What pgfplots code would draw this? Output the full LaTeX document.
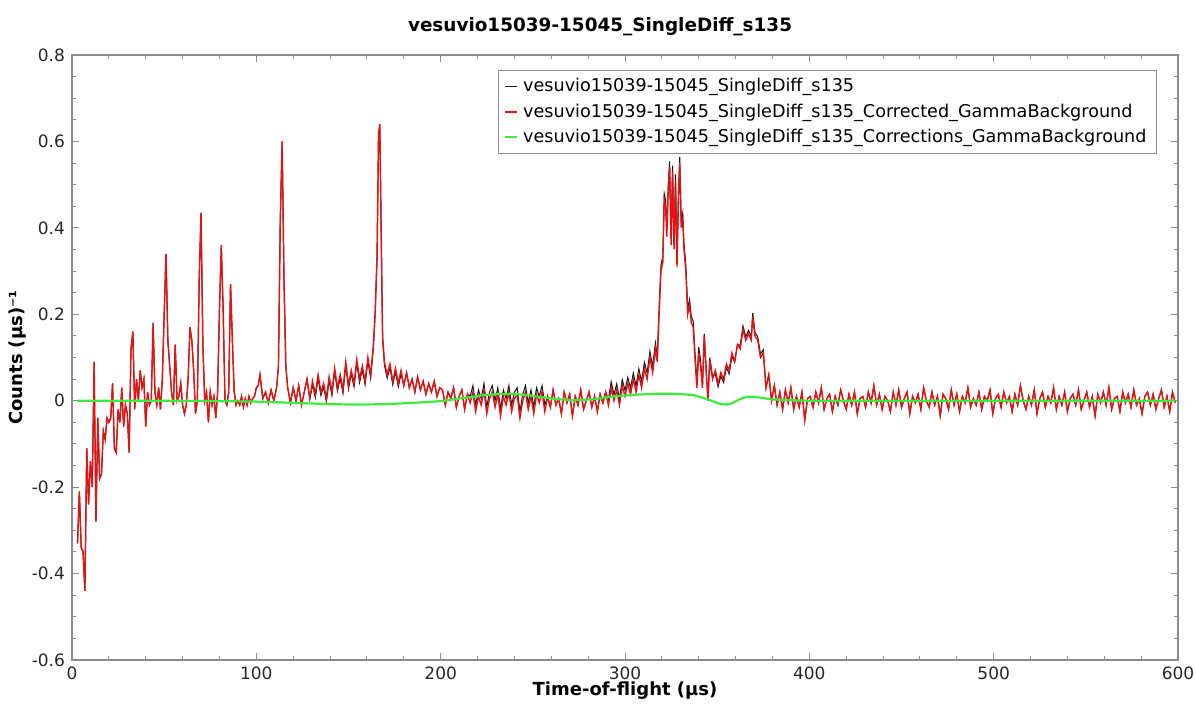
\documentclass[border=0pt]{standalone}
\usepackage{fontspec}
\setmainfont{DejaVu Sans}
\usepackage{pgfplots}
\usepackage{pgfplotstable}
\pgfplotsset{compat=1.18}

\definecolor{rawcol}{RGB}{20,20,20}
\definecolor{corrcol}{RGB}{228,18,18}
\definecolor{bgcol}{RGB}{60,235,60}
\definecolor{framecol}{RGB}{140,140,140}

% t (microseconds), raw spectrum, gamma-corrected spectrum
\pgfplotstableread{
t raw corr
3 -0.33 -0.33
4 -0.21 -0.21
5 -0.34 -0.34
6 -0.35 -0.35
7 -0.44 -0.44
8 -0.11 -0.11
9 -0.24 -0.24
10 -0.14 -0.14
11 -0.20 -0.20
12 0.09 0.09
13 -0.28 -0.28
14 -0.04 -0.04
15 -0.18 -0.18
16 -0.17 -0.17
17 -0.07 -0.07
18 -0.09 -0.09
19 -0.04 -0.04
20 -0.05 -0.05
21 -0.04 -0.04
22 0.04 0.04
23 -0.11 -0.11
24 -0.12 -0.12
25 -0.02 -0.02
26 -0.05 -0.05
27 0.03 0.03
28 -0.06 -0.06
29 -0.01 -0.01
30 -0.03 -0.03
31 -0.12 -0.12
32 0.12 0.12
33 0.16 0.16
34 -0.02 -0.02
35 0.05 0.05
36 0.0 0.0
37 0.07 0.07
38 0.03 0.03
39 0.05 0.05
40 -0.06 -0.06
41 0.02 0.02
42 -0.01 -0.01
43 0.0 0.0
44 0.18 0.18
45 0.02 0.02
46 -0.01 -0.01
47 0.03 0.03
48 -0.02 -0.02
49 0.05 0.05
50 0.20 0.20
51 0.34 0.34
52 0.14 0.14
53 0.08 0.08
54 0.02 0.02
55 -0.01 -0.01
56 0.13 0.13
57 0.0 0.0
58 0.01 0.01
59 0.04 0.04
60 -0.01 -0.01
61 -0.03 -0.03
62 -0.01 -0.01
63 0.05 0.05
64 0.17 0.17
65 0.14 0.14
66 0.07 0.07
67 -0.03 -0.03
68 0.0 0.0
69 0.28 0.28
70 0.435 0.435
71 0.13 0.13
72 0.0 0.0
73 0.02 0.02
74 -0.05 -0.05
75 0.02 0.02
76 -0.01 -0.01
77 0.01 0.01
78 -0.04 -0.04
79 0.02 0.02
80 0.21 0.21
81 0.36 0.36
82 0.21 0.21
83 0.0 0.0
84 -0.01 -0.01
85 0.02 0.02
86 0.27 0.27
87 0.14 0.14
88 0.02 0.02
89 -0.01 -0.01
90 0.0 0.0
91 -0.01 -0.01
92 0.01 0.01
93 -0.015 -0.015
94 0.005 0.005
95 -0.01 -0.01
96 0.01 0.01
97 -0.005 -0.005
98 0.005 0.005
99 0.01 0.01
100 0.03 0.03
101 0.035 0.035
102 0.06 0.06
103.5 0.005 0.005
105 0.02 0.02
106.5 -0.005 -0.005
108 0.025 0.025
109.5 0.0 0.0
111 0.03 0.03
112 0.08 0.08
113 0.42 0.42
114 0.60 0.60
115 0.28 0.28
116 0.08 0.08
117 0.03 0.03
118.5 -0.005 -0.005
120 0.03 0.03
121.5 0.0 0.0
123 0.035 0.035
124.5 -0.01 -0.01
126 0.02 0.02
127.5 0.05 0.05
129 0.005 0.005
130.5 0.037 0.045
132 0.007 0.015
133.5 0.052 0.06
135 0.012 0.02
136.5 0.032 0.04
138 -0.003 0.005
139.5 0.047 0.055
141 0.012 0.02
142.5 0.067 0.075
144 0.022 0.03
145.5 0.052 0.06
147 0.017 0.025
148.5 0.082 0.09
150 0.027 0.035
151.5 0.062 0.07
153 0.032 0.04
154.5 0.087 0.095
156 0.042 0.05
157.5 0.072 0.08
159 0.037 0.045
160.5 0.092 0.1
162 0.052 0.06
163.5 0.122 0.13
164.5 0.202 0.21
165.5 0.332 0.34
166.3 0.612 0.62
167 0.632 0.64
167.8 0.362 0.37
168.5 0.142 0.15
169.5 0.082 0.09
171 0.052 0.06
172.5 0.077 0.085
174 0.037 0.045
175.5 0.067 0.075
177 0.032 0.04
178.5 0.062 0.07
180 0.035 0.035
181.5 0.065 0.065
183 0.03 0.03
184.5 0.05 0.05
186 0.02 0.02
187.5 0.055 0.055
189 0.025 0.025
190.5 0.045 0.045
192 0.015 0.015
193.5 0.04 0.04
195 0.02 0.02
196.5 0.045 0.045
198 0.01 0.01
199.5 0.03 0.03
201 0.025 0.025
202.5 -0.01 -0.01
204 0.02 0.02
205.5 0.005 0.005
207 0.03 0.03
208.5 -0.015 -0.015
210 0.01 0.01
211.5 0.025 0.025
213 -0.02 -0.02
214.5 0.015 0.015
216 0.010 -0.005
217.5 0.035 0.02
219 -0.010 -0.025
220.5 0.025 0.01
222 0.005 -0.01
223.5 0.040 0.025
225 -0.015 -0.03
226.5 0.020 0.005
228 0.035 0.02
229.5 0.0 -0.015
231 0.030 0.015
232.5 -0.020 -0.035
234 0.025 0.01
235.5 0.005 -0.01
237 0.035 0.02
238.5 -0.010 -0.025
240 0.020 0.005
241.5 0.030 0.015
243 -0.025 -0.04
244.5 0.015 0.0
246 0.035 0.02
247.5 -0.005 -0.02
249 0.025 0.01
250.5 -0.015 -0.03
252 0.030 0.015
253.5 0.010 -0.005
255 0.035 0.02
256.5 -0.010 -0.025
258 0.01 0.01
259.5 -0.015 -0.015
261 0.025 0.025
262.5 -0.01 -0.01
264 0.005 0.005
265.5 -0.03 -0.03
267 0.02 0.02
268.5 -0.005 -0.005
270 0.015 0.015
271.5 -0.035 -0.035
273 0.01 0.01
274.5 -0.01 -0.01
276 0.025 0.025
277.5 -0.02 -0.02
279 0.0 0.0
280.5 0.02 0.02
282 -0.015 -0.015
283.5 0.01 0.01
285 -0.025 -0.025
286.5 0.015 0.015
288 -0.005 -0.005
289.5 0.02 0.02
291 0.004 -0.01
292.5 0.044 0.03
294 0.014 0.0
295.5 0.039 0.025
297 0.004 -0.01
298.5 0.049 0.035
300 0.024 0.01
301.5 0.054 0.04
303 0.029 0.015
304.5 0.064 0.05
306 0.034 0.02
307.5 0.074 0.06
309 0.044 0.03
310.5 0.089 0.075
312 0.064 0.05
313.5 0.114 0.1
315 0.079 0.065
316.5 0.134 0.12
317.5 0.104 0.09
318.5 0.214 0.2
319.5 0.314 0.3
320.5 0.334 0.32
321.3 0.479 0.465
322 0.464 0.45
322.7 0.394 0.38
323.4 0.494 0.48
324.2 0.554 0.54
325 0.374 0.36
325.8 0.544 0.53
326.6 0.364 0.35
327.4 0.524 0.51
328.2 0.324 0.31
329 0.484 0.47
329.7 0.564 0.55
330.5 0.414 0.40
331.3 0.434 0.42
332 0.364 0.35
333 0.314 0.30
334 0.214 0.20
335 0.234 0.22
336 0.194 0.18
337 0.184 0.17
338 0.109 0.095
339 0.044 0.03
340 0.124 0.11
341 0.094 0.08
342 0.035 0.03
343 0.155 0.15
344 0.075 0.07
345 0.005 0.0
346 0.100 0.095
347.5 0.055 0.05
349 0.062 0.07
350.5 0.032 0.04
352 0.057 0.065
353.5 0.042 0.05
355 0.077 0.085
356.5 0.062 0.07
358 0.102 0.11
359.5 0.09 0.09
361 0.13 0.13
362.5 0.128 0.12
364 0.173 0.165
365.5 0.148 0.14
367 0.163 0.155
368.5 0.148 0.14
369.3 0.203 0.195
370.5 0.158 0.15
372 0.148 0.14
373.5 0.108 0.10
375 0.118 0.11
376.5 0.03 0.03
378 0.06 0.06
379.5 0.0 0.0
381 0.035 0.035
382.5 -0.01 -0.01
384 0.02 0.02
385.5 -0.02 -0.02
387 0.025 0.025
388.5 -0.005 -0.005
390 0.03 0.03
391.5 -0.02 -0.02
393 0.01 0.01
394.5 -0.015 -0.015
396 0.02 0.02
397.5 -0.045 -0.045
399 0.005 0.005
400.5 0.01 0.01
402 -0.015 -0.015
403.5 0.02 0.02
405 -0.005 -0.005
406.5 0.03 0.03
408 -0.02 -0.02
409.5 0.005 0.005
411 0.015 0.015
412.5 -0.025 -0.025
414 0.01 0.01
415.5 -0.01 -0.01
417 0.025 0.025
418.5 0.0 0.0
420 -0.02 -0.02
421.5 0.015 0.015
423 -0.01 -0.01
424.5 0.02 0.02
426 -0.03 -0.03
427.5 0.005 0.005
429 0.01 0.01
430.5 -0.015 -0.015
432 0.02 0.02
433.5 -0.005 -0.005
435 0.035 0.035
436.5 -0.01 -0.01
438 0.015 0.015
439.5 -0.02 -0.02
441 0.01 0.01
442.5 0.0 0.0
444 -0.025 -0.025
445.5 0.02 0.02
447 -0.01 -0.01
448.5 0.025 0.025
450 -0.015 -0.015
451.5 0.005 0.005
453 0.02 0.02
454.5 -0.03 -0.03
456 0.01 0.01
457.5 -0.005 -0.005
459 0.015 0.015
460.5 -0.02 -0.02
462 0.03 0.03
463.5 0.0 0.0
465 -0.015 -0.015
466.5 0.02 0.02
468 -0.01 -0.01
469.5 0.01 0.01
471 -0.035 -0.035
472.5 0.015 0.015
474 0.005 0.005
475.5 -0.02 -0.02
477 0.025 0.025
478.5 -0.01 -0.01
480 0.015 0.015
481.5 -0.025 -0.025
483 0.01 0.01
484.5 -0.005 -0.005
486 0.03 0.03
487.5 -0.015 -0.015
489 0.005 0.005
490.5 -0.01 -0.01
492 0.02 0.02
493.5 -0.02 -0.02
495 0.01 0.01
496.5 0.0 0.0
498 0.025 0.025
499.5 -0.03 -0.03
501 0.005 0.005
502.5 0.015 0.015
504 -0.015 -0.015
505.5 0.02 0.02
507 -0.005 -0.005
508.5 0.01 0.01
510 -0.025 -0.025
511.5 0.015 0.015
513 -0.01 -0.01
514.5 0.035 0.035
516 0.0 0.0
517.5 -0.02 -0.02
519 0.01 0.01
520.5 -0.01 -0.01
522 0.025 0.025
523.5 -0.03 -0.03
525 0.005 0.005
526.5 0.02 0.02
528 -0.015 -0.015
529.5 0.01 0.01
531 -0.005 -0.005
532.5 0.03 0.03
534 -0.02 -0.02
535.5 0.01 0.01
537 -0.01 -0.01
538.5 0.02 0.02
540 -0.025 -0.025
541.5 0.005 0.005
543 0.015 0.015
544.5 -0.01 -0.01
546 0.025 0.025
547.5 -0.02 -0.02
549 0.0 0.0
550.5 0.02 0.02
552 -0.015 -0.015
553.5 0.01 0.01
555 -0.035 -0.035
556.5 0.015 0.015
558 -0.005 -0.005
559.5 0.02 0.02
561 -0.01 -0.01
562.5 0.03 0.03
564 -0.02 -0.02
565.5 0.005 0.005
567 0.01 0.01
568.5 -0.025 -0.025
570 0.02 0.02
571.5 -0.005 -0.005
573 0.015 0.015
574.5 -0.015 -0.015
576 0.025 0.025
577.5 -0.01 -0.01
579 0.005 0.005
580.5 -0.03 -0.03
582 0.01 0.01
583.5 0.02 0.02
585 -0.01 -0.01
586.5 0.015 0.015
588 -0.02 -0.02
589.5 0.005 0.005
591 0.025 0.025
592.5 -0.015 -0.015
594 0.01 0.01
595.5 -0.025 -0.025
597 0.02 0.02
598.5 -0.005 -0.005
}\spectrum

% smooth gamma background estimate
\pgfplotstableread{
t bg
3 0
20 0
50 0
80 -0.001
100 -0.002
120 -0.005
140 -0.008
155 -0.009
170 -0.008
185 -0.005
200 -0.001
212 0.006
222 0.012
232 0.016
242 0.015
252 0.010
262 0.004
272 0.001
282 0.003
292 0.009
302 0.013
315 0.016
328 0.016
337 0.013
343 0.006
348 -0.002
352 -0.008
355 -0.009
358 -0.006
362 0.003
366 0.009
370 0.009
375 0.006
380 0.003
390 0.001
400 0
450 0
500 0
550 0
598.5 0
}\background

\begin{document}
\begin{tikzpicture}
\begin{axis}[
  scale only axis,
  width=553pt, height=302.5pt,
  xmin=0, xmax=600, ymin=-0.6, ymax=0.8,
  xtick={0,100,200,300,400,500,600},
  ytick={-0.6,-0.4,-0.2,0,0.2,0.4,0.6,0.8},
  minor x tick num=4, minor y tick num=3,
  tick align=inside,
  major tick length=3.5pt, minor tick length=2pt,
  axis line style={framecol, line width=0.6pt},
  tick style={framecol, line width=0.5pt},
  tick label style={font=\fontsize{8.5}{10}\selectfont, text=black!85},
  /pgf/number format/assume math mode=true,
  yticklabel style={/pgf/number format/fixed, /pgf/number format/precision=1},
  legend cell align=left,
  legend style={at={(1,1)}, anchor=north east, xshift=-10.5pt, yshift=-7.5pt,
    draw=framecol, fill=white, line width=0.5pt,
    font=\fontsize{8.8}{10}\selectfont, row sep=0.4pt,
    inner xsep=2.5pt, inner ysep=2pt,
    nodes={inner xsep=2.5pt}},
  legend image code/.code={\draw[#1] (0pt,0pt) -- (6pt,0pt);},
]
\addplot[draw=rawcol, line width=0.5pt] table[x=t, y=raw] {\spectrum};
\addlegendentry{vesuvio15039-15045\_SingleDiff\_s135}
\addplot[draw=corrcol, line width=0.7pt] table[x=t, y=corr] {\spectrum};
\addlegendentry{vesuvio15039-15045\_SingleDiff\_s135\_Corrected\_GammaBackground}
\addplot[draw=bgcol, line width=1.1pt] table[x=t, y=bg] {\background};
\addlegendentry{vesuvio15039-15045\_SingleDiff\_s135\_Corrections\_GammaBackground}
\end{axis}
\node[font=\fontsize{9.2}{10}\selectfont\bfseries] at ([xshift=264pt, yshift=14pt]current axis.north west)
  {vesuvio15039-15045\_SingleDiff\_s135};
\node[font=\fontsize{9}{10}\selectfont\bfseries] at ([yshift=-15.5pt]current axis.south)
  {Time-of-flight (µs)};
\node[font=\fontsize{9}{10}\selectfont\bfseries, rotate=90] at ([xshift=-27pt]current axis.west)
  {Counts (µs)⁻¹};
\pgfresetboundingbox
\path ([xshift=-36pt, yshift=-22pt]current axis.south west) rectangle ([xshift=9pt, yshift=27.5pt]current axis.north east);
\end{tikzpicture}
\end{document}
